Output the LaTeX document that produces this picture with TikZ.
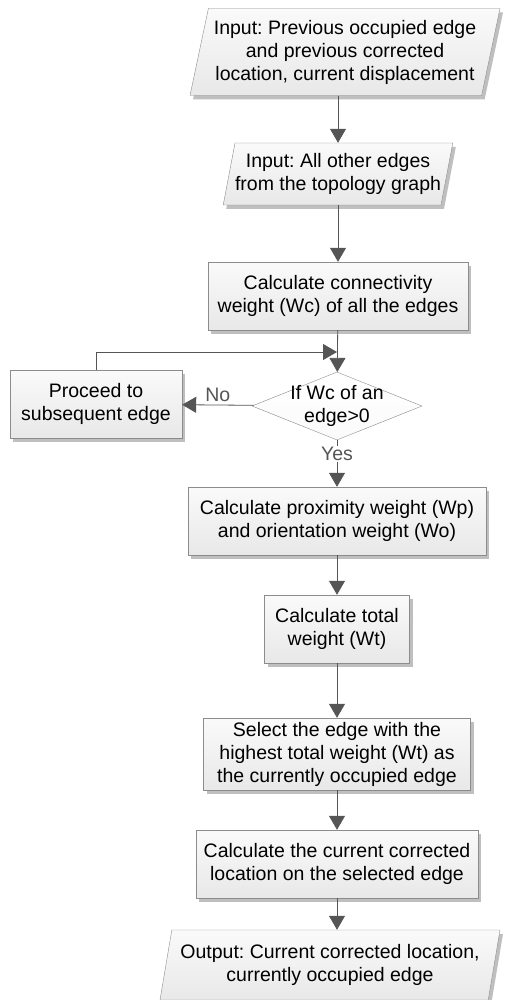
\documentclass[tikz,border=0pt]{standalone}
\usepackage{fontspec}
\setmainfont{Liberation Sans}
\usepackage{tikz}
\usetikzlibrary{shapes.geometric, arrows.meta, shadows}
\definecolor{boxline}{RGB}{140, 140, 140}
\definecolor{arrowgray}{RGB}{85, 85, 85}
\definecolor{boxtop}{RGB}{250, 250, 250}
\definecolor{boxbottom}{RGB}{232, 232, 232}
\frenchspacing

\tikzset{
  stepbox/.style={rectangle, draw=boxline, top color=boxtop, bottom color=boxbottom,
    align=center, inner sep=0pt, drop shadow={shadow xshift=3pt, shadow yshift=-4pt, opacity=0.25, fill=black}},
  iobox/.style={trapezium, trapezium left angle=74, trapezium right angle=106,
    trapezium stretches body, draw=boxline, top color=boxtop, bottom color=boxbottom,
    align=center, inner sep=0pt, drop shadow={shadow xshift=3pt, shadow yshift=-4pt, opacity=0.25, fill=black}},
  decide/.style={diamond, draw=boxline, top color=white, bottom color=boxtop, inner sep=0pt},
  flow/.style={draw=arrowgray, line width=0.8pt, -{Triangle[length=14pt, width=16pt]}},
  answer/.style={text=arrowgray}
}

\begin{document}
\begin{tikzpicture}[x=1pt, y=-1pt, font=\fontsize{19.5}{23}\selectfont]
\useasboundingbox (0,0) rectangle (515,1000);
% Inputs
\node[iobox, minimum width=310pt, minimum height=87pt] (prev) at (345,52) {Input: Previous occupied edge\\and previous corrected\\location, current displacement};
\node[iobox, minimum width=215pt, minimum height=62pt] (edges) at (338,174) {Input: All other edges\\from the topology graph};

% Connectivity check
\node[stepbox, minimum width=260pt, minimum height=68pt] (conn) at (338,296) {Calculate connectivity\\weight (Wc) of all the edges};
\node[decide, minimum width=170pt, minimum height=68pt,
  label={[align=center]center:If Wc of an\\edge>0}] (check) at (337,406) {};
\node[stepbox, minimum width=172pt, minimum height=68pt] (next) at (96,404) {Proceed to\\subsequent edge};
\coordinate (merge) at (337,352);

% Weights
\node[stepbox, minimum width=298pt, minimum height=68pt] (prox) at (337,521) {Calculate proximity weight (Wp)\\and orientation weight (Wo)};
\node[stepbox, minimum width=145pt, minimum height=68pt] (total) at (337,629) {Calculate total\\weight (Wt)};
\node[stepbox, minimum width=267pt, minimum height=72pt] (select) at (337,754) {Select the edge with the\\highest total weight (Wt) as\\the currently occupied edge};
\node[stepbox, minimum width=282pt, minimum height=68pt] (locate) at (337,864) {Calculate the current corrected\\location on the selected edge};

% Output
\node[iobox, minimum width=340pt, minimum height=70pt] (out) at (330,965) {Output: Current corrected location,\\currently occupied edge};

% Edges
\draw[flow] (edges.north |- prev.south) -- (edges.north);
\draw[flow] (conn.north |- edges.south) -- (conn.north);
\draw[flow] (conn) -- (check);
\draw[flow] (next.north) |- (merge);
\draw[flow] (check) -- (next) node[answer, pos=0.5, above] {No};
\draw[flow] (check) -- (prox) node[answer, pos=0.3, fill=white, inner sep=1pt] {Yes};
\draw[flow] (prox) -- (total);
\draw[flow] (total) -- (select);
\draw[flow] (select) -- (locate);
\draw[flow] (locate.south) -- (locate.south |- out.north);
\end{tikzpicture}
\end{document}
